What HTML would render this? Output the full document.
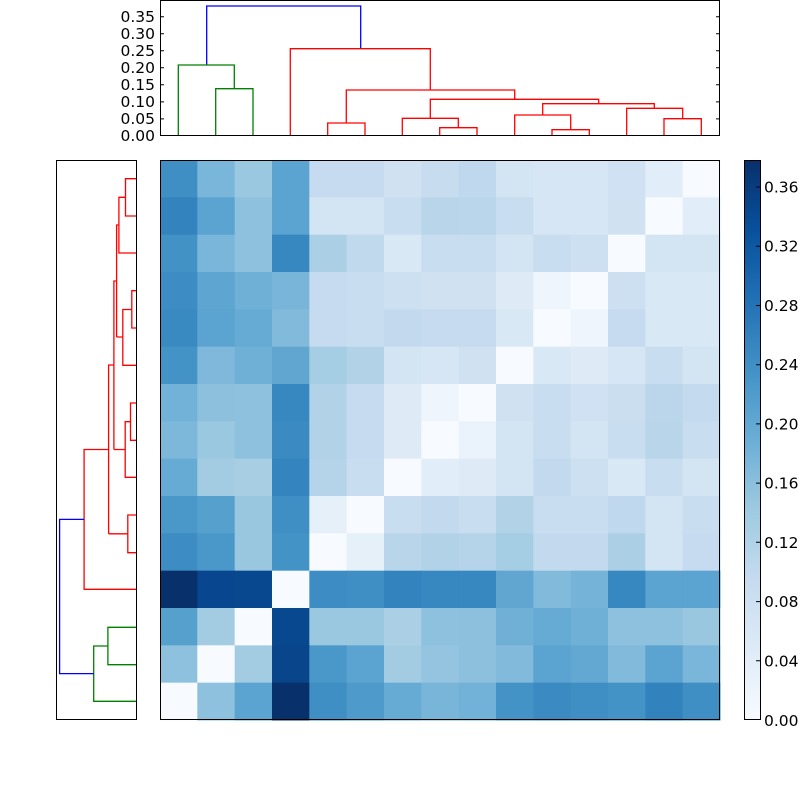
<!DOCTYPE html>
<html><head><meta charset="utf-8"><style>
html,body{margin:0;padding:0;background:#fff;}
svg{display:block;}
text{font-family:"DejaVu Sans","Liberation Sans",sans-serif;font-size:15.5px;fill:#000;}
</style></head><body>
<svg width="800" height="800" viewBox="0 0 800 800" xmlns="http://www.w3.org/2000/svg">
<defs>
<linearGradient id="cb" x1="0" y1="1" x2="0" y2="0">
<stop offset="0" stop-color="#f7fbff"/>
<stop offset="0.125" stop-color="#deebf7"/>
<stop offset="0.25" stop-color="#c6dbef"/>
<stop offset="0.375" stop-color="#9ecae1"/>
<stop offset="0.5" stop-color="#6baed6"/>
<stop offset="0.625" stop-color="#4292c6"/>
<stop offset="0.75" stop-color="#2171b5"/>
<stop offset="0.875" stop-color="#08519c"/>
<stop offset="1" stop-color="#08306b"/>
</linearGradient>
</defs>
<g id="heat"></g>
<rect x="160.5" y="160.5" width="559" height="559" fill="none" stroke="#000" stroke-width="1"/>

<!-- top dendrogram -->
<g fill="none" stroke-width="1.3">
<path stroke="#0000ff" d="M206.7 65V6H360.7V48.7"/>
<path stroke="#008000" d="M178.3 136V65H234.3V88.7M215.7 136V88.7H253V136"/>
<path stroke="#ff0000" d="M290.3 136V48.7H430.3V90M346.3 123V90H514.7V99.3M327.7 136V123H365V136
M430.3 118.3V99.3H598.7V103.7M402.3 136V118.3H458.3V127.7M439.7 136V127.7H477V136
M542.7 115V103.7H654.3V108.3M514.7 136V115H570.7V129.7M552 136V129.7H589.3V136
M626.7 136V108.3H682.7V118.7M664 136V118.7H701.3V136"/>
</g>
<rect x="160.5" y="0.5" width="559" height="135" fill="none" stroke="#000"/>
<g stroke="#000" stroke-width="1">
<path d="M160 118.9h4M160 101.9h4M160 84.8h4M160 67.8h4M160 50.7h4M160 33.7h4M160 16.7h4
M720 118.9h-4M720 101.9h-4M720 84.8h-4M720 67.8h-4M720 50.7h-4M720 33.7h-4M720 16.7h-4"/>
</g>
<g text-anchor="end">
<text x="155" y="141">0.00</text>
<text x="155" y="124">0.05</text>
<text x="155" y="107">0.10</text>
<text x="155" y="90">0.15</text>
<text x="155" y="73">0.20</text>
<text x="155" y="56">0.25</text>
<text x="155" y="39">0.30</text>
<text x="155" y="22">0.35</text>
</g>

<!-- left dendrogram -->
<g fill="none" stroke-width="1.3">
<path stroke="#ff0000" d="M136 178.7H125.5V216H136M125.5 197.3H118.9V253H136M118.9 225H116.6V337
M136 290.7H131.8V328H136M131.8 309.5H122.8V365.3H136M122.8 337H116.6
M116.6 281H113.9V449.5M136 403H130.5V440.3H136M130.5 421.7H125.2V477.3H136M125.2 449.5H113.9
M113.9 365H108.6V533.8M136 515H127.8V552.7H136M127.8 533.8H108.6
M108.6 449.5H84.1V589.3H136"/>
<path stroke="#008000" d="M136 627.3H107.9V664.7H136M107.9 646H93.7V701.3H136"/>
<path stroke="#0000ff" d="M84.1 519.4H59.6V673.6H93.7"/>
</g>
<rect x="56.5" y="160.5" width="80" height="559" fill="none" stroke="#000"/>

<!-- colorbar -->
<rect x="744.5" y="160.5" width="16" height="559" fill="url(#cb)" stroke="#000"/>
<g stroke="#000">
<path d="M760 660.8h-4M760 601.6h-4M760 542.3h-4M760 483.1h-4M760 423.9h-4M760 364.7h-4M760 305.5h-4M760 246.2h-4M760 187h-4"/>
</g>
<g>
<text x="764" y="726">0.00</text>
<text x="764" y="666.3">0.04</text>
<text x="764" y="607.1">0.08</text>
<text x="764" y="547.8">0.12</text>
<text x="764" y="488.6">0.16</text>
<text x="764" y="429.4">0.20</text>
<text x="764" y="370.2">0.24</text>
<text x="764" y="311">0.28</text>
<text x="764" y="251.7">0.32</text>
<text x="764" y="192.5">0.36</text>
</g>
</svg>
<script>
var d=[
"3f8fc5 7ab6d9 9ac8e0 5ba3d0 c6dbef c6dbef d0e1f2 c8dcf0 bfd8ed d3e4f3 d6e6f4 d6e6f4 cfe1f2 e1edf8 f7fbff",
"3383be 5ba3d0 8dc1dd 5ba3d0 d3e4f3 d3e4f3 c8ddf0 b8d5ea bad6eb c8ddf0 d6e6f4 d6e6f4 d0e1f2 f7fbff e1edf8",
"4292c6 7ab6d9 8dc1dd 3787c0 abd0e6 c1d9ed d9e8f5 c8ddf0 c9ddf0 d3e4f3 c8ddf0 cde0f1 f7fbff d3e4f3 d3e4f3",
"3d8dc4 5ea5d1 6fb0d7 79b5d9 c6dbef c9ddf0 cde0f1 d0e1f2 d0e1f2 deebf7 eef5fc f7fbff cde0f1 d9e8f5 d9e8f5",
"3a8ac2 5ba3d0 66abd4 82badb c6dbef c8ddf0 c3daee c6dbef c6dbef d9e8f5 f7fbff eef5fc c6dbef d9e8f5 d9e8f5",
"4493c7 7fb8da 6fb0d7 61a6d1 a5cde3 b2d2e8 d3e4f3 d6e6f4 d0e1f2 f7fbff d9e8f5 deebf7 d6e6f4 c8ddf0 d3e4f3",
"73b2d8 8cc0dd 8dc1dd 3787c0 b2d2e8 c6dbef deebf7 eef5fc f7fbff d0e1f2 c8ddf0 cfe1f2 cadef0 bbd6eb c4daee",
"7db8da 9ac8e0 8dc1dd 3b8bc2 b2d2e8 c6dbef deebf7 f7fbff eaf2fb d3e4f3 c8ddf0 d3e4f3 c8ddf0 b8d5ea c8ddf0",
"66abd4 a3cce3 a8cee4 3484bf b5d4e9 c8ddf0 f7fbff e1edf8 deebf7 d3e4f3 c3daee cde0f1 d9e8f5 c8ddf0 d3e4f3",
"4a98c9 56a0ce 99c7e0 3f8fc5 e6f0f9 f7fbff c8ddf0 c3daee c9ddf0 b2d2e8 c8ddf0 c8ddf0 bfd8ed d3e4f3 c8ddf0",
"3d8dc4 4a98c9 99c7e0 4493c7 f7fbff e6f0f9 b8d5ea b2d2e8 b5d4e9 a5cde3 c3daee c3daee abd0e6 d3e4f3 c6dbef",
"08306b 08468f 08488e f7fbff 3d8dc4 3f8fc5 3383be 3787c0 3787c0 61a6d1 82badb 75b3d8 3787c0 5ba3d0 5ba3d0",
"56a0ce a3cce3 f7fbff 08488e 9ac8e0 9ac8e0 abd0e6 8dc1dd 8cc0dd 70b0d7 66abd4 6fb0d7 8dc1dd 8dc1dd 99c7e0",
"8dc1dd f7fbff a3cce3 08458b 4a98c9 5ba3d0 a3cce3 94c4df 8cc0dd 82badb 5ba3d0 63a8d3 82badb 5ba3d0 7ab6d9",
"f7fbff 8dc1dd 5ba3d0 08306b 3f8fc5 4e9acb 66abd4 79b5d9 73b2d8 4493c7 3b8bc2 3f8fc5 4493c7 3282be 3f8fc5"];
var g=document.getElementById('heat'),s='',c=560/15;
for(var r=0;r<15;r++){var row=d[r].split(' ');for(var k=0;k<15;k++){
s+='<rect x="'+(160+k*c).toFixed(2)+'" y="'+(160+r*c).toFixed(2)+'" width="'+(c+0.5).toFixed(2)+'" height="'+(c+0.5).toFixed(2)+'" fill="#'+row[k]+'"/>';}}
g.innerHTML=s;
</script>
</body></html>
